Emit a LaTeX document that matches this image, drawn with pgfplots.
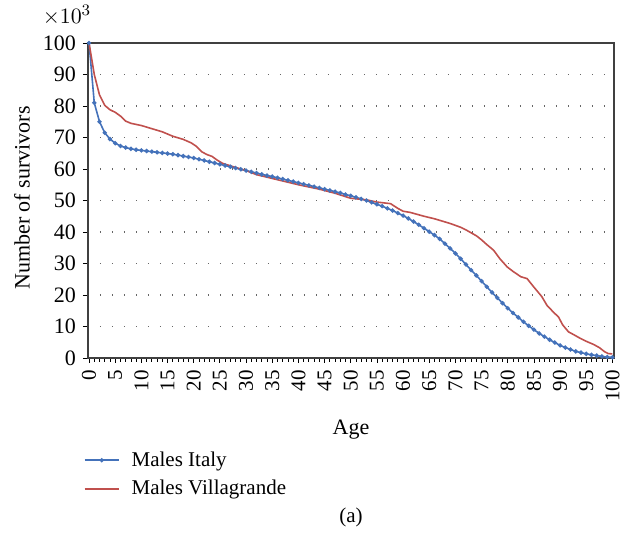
\documentclass[border=0pt]{standalone}
\usepackage{fontspec}
\setmainfont{Liberation Serif}
\usepackage{pgfplots}
\pgfplotsset{compat=1.18}
\definecolor{cblue}{RGB}{68,114,186}
\definecolor{cred}{RGB}{192,80,77}
\begin{document}
\begin{tikzpicture}
\path[use as bounding box] (-44pt,-90.5pt) rectangle (272.5pt,179pt);
\begin{axis}[
  at={(0,0)}, anchor=south west,
  scale only axis, width=263pt, height=157.5pt,
  xmin=-0.2, xmax=100.3, ymin=0, ymax=100,
  xtick={0,5,...,100}, minor x tick num=4,
  ytick={0,10,...,100},
  xtick pos=left, ytick pos=left,
  tick align=outside,
  major tick length=2.5pt, minor tick length=2pt,
  tick style={black, line width=0.4pt},
  axis line style={black!75, line width=0.8pt},
  x tick label style={rotate=90, anchor=east, font=\fontsize{10.5}{12}\selectfont},
  y tick label style={font=\fontsize{11}{13}\selectfont},
  /pgf/number format/assume math mode=true,
  ymajorgrids,
  grid style={black!60, line width=0.7pt, dash pattern=on 0.7pt off 5.3pt},
  clip=false,
  legend style={draw=none, fill=none, at={(axis description cs:-0.02,-0.27)}, anchor=north west, row sep=1.5pt, font=\fontsize{10.5}{12}\selectfont},
  legend cell align=left,
]
\addplot[cblue, line width=0.8pt, mark=*, mark size=0.65pt] coordinates {
(0,100) (1,81) (2,75) (3,71.5) (4,69.5) (5,68.2) (6,67.3) (7,66.8) (8,66.4) (9,66.1)
(10,65.9) (11,65.7) (12,65.5) (13,65.3) (14,65.1) (15,64.9) (16,64.7) (17,64.4) (18,64.1) (19,63.8)
(20,63.5) (21,63.1) (22,62.7) (23,62.3) (24,61.9) (25,61.5) (26,61.1) (27,60.7) (28,60.3) (29,59.9)
(30,59.5) (31,59.1) (32,58.7) (33,58.3) (34,57.9) (35,57.6) (36,57.2) (37,56.8) (38,56.4) (39,56.0)
(40,55.6) (41,55.2) (42,54.8) (43,54.4) (44,54.0) (45,53.6) (46,53.2) (47,52.8) (48,52.4) (49,51.9)
(50,51.5) (51,51.0) (52,50.5) (53,50.0) (54,49.4) (55,48.8) (56,48.2) (57,47.5) (58,46.8) (59,46.0)
(60,45.2) (61,44.3) (62,43.3) (63,42.3) (64,41.2) (65,40.1) (66,39.0) (67,37.8) (68,36.3) (69,34.8)
(70,33.2) (71,31.5) (72,29.7) (73,27.9) (74,26.2) (75,24.4) (76,22.6) (77,20.8) (78,19.1) (79,17.4)
(80,15.8) (81,14.3) (82,12.9) (83,11.5) (84,10.2) (85,9.0) (86,7.8) (87,6.8) (88,5.8) (89,4.9)
(90,4.0) (91,3.3) (92,2.7) (93,2.1) (94,1.7) (95,1.3) (96,1.0) (97,0.75) (98,0.5) (99,0.3) (100,0.2)
};
\addlegendentry{\hspace{4pt}Males Italy}
\addplot[cred, line width=0.8pt] coordinates {
(0,100) (1,90) (2,83.5) (3,80.2) (4,78.8) (5,78) (6,76.8) (7,75.2) (8,74.5) (10,73.8)
(12,72.8) (14,71.8) (16,70.4) (18,69.4) (19.5,68.3) (20.5,67.2) (21.5,65.5) (22.5,64.6) (23.5,64) (24.5,62.8)
(25.5,61.8) (27,61) (30,59.5) (32,58.2) (35,57) (40,55.0) (44,53.6) (47,52.3) (50,50.7) (53,50.2)
(55,49.5) (57.6,49.0) (59,47.5) (60,46.6) (61.4,46.2) (64,45) (66,44.2) (69,42.7) (71,41.5) (72.2,40.5)
(74,38.8) (75,37.5) (76,36) (77.3,34.2) (78.5,31.5) (79.9,28.9) (81,27.5) (82.5,25.8) (83.7,25.2) (85,22.5)
(86.5,19.5) (87.5,16.7) (88.7,14.6) (89.7,13) (90.5,10.5) (91.6,8.3) (92.5,7.5) (93.9,6.2) (95,5.3) (96.4,4.3)
(97.5,3.3) (98.5,2.0) (99.2,1.4) (100,1.3)
};
\addlegendentry{\hspace{4pt}Males Villagrande}
\end{axis}
\node[font=\fontsize{11}{13}\selectfont] at (-10.5pt,171.5pt) {$\times 10^{3}$};
\node[rotate=90, font=\fontsize{11}{13}\selectfont] at (-33pt,80pt) {Number of survivors};
\node[font=\fontsize{11}{13}\selectfont] at (131.5pt,-36pt) {Age};
\node[font=\fontsize{10.5}{12}\selectfont] at (131.5pt,-79.5pt) {(a)};
\end{tikzpicture}
\end{document}
